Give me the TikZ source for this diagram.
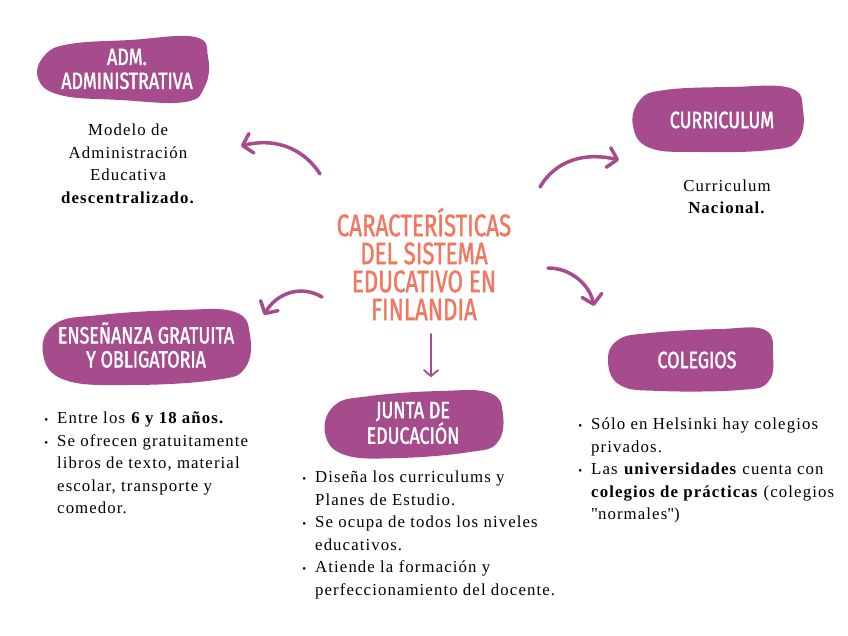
\documentclass[tikz,border=0pt]{standalone}
\usepackage{fontspec}
\setmainfont[LetterSpace=6.5]{Liberation Serif}
\newfontfamily\handfont[FakeStretch=0.72, FakeBold=1.2]{Fira Sans}
\newfontfamily\tagfont[FakeStretch=0.76, FakeBold=1.6]{Fira Sans}
\usetikzlibrary{arrows.meta}
\definecolor{blobpurple}{RGB}{166, 76, 140}
\definecolor{titlecoral}{RGB}{240, 120, 96}
\newcommand{\bul}{\llap{{\fontsize{11}{11}\selectfont\textbullet}\hspace{9pt}}}

\begin{document}
\begin{tikzpicture}[x=1pt, y=-1pt,
  blobshape/.style={fill=blobpurple, draw=none},
  blobtext/.style={text=white, font=\tagfont\fontsize{23.5}{24}\selectfont, align=center},
  bodytext/.style={font=\fontsize{16.8}{22.5}\selectfont, align=center, inner sep=0pt},
  listtext/.style={font=\fontsize{16.8}{22.5}\selectfont, align=left, anchor=north west, inner sep=0pt},
  curvearrow/.style={blobpurple, line width=3.5pt, line cap=round,
    -{Straight Barb[length=9pt, width=20pt, round]}}]
  \useasboundingbox (0,0) rectangle (848,636);
  % ── Title ──
  \node[titlecoral, font=\handfont\fontsize{31}{28}\selectfont, align=center]
    (title) at (424,264) {CARACTERÍSTICAS\\DEL SISTEMA\\EDUCATIVO EN\\FINLANDIA};
  % ── Adm. administrativa ──
  \fill[blobshape] plot[smooth cycle, tension=0.7] coordinates
    {(45,55) (70,44) (130,40) (195,37) (208,57) (205,86) (185,102) (120,100) (60,95) (38,78)};
  \node[blobtext] (adm) at (127,69) {ADM.\\ADMINISTRATIVA};
  \node[bodytext] (admtxt) at (128,164)
    {Modelo de\\Administración\\Educativa\\\textbf{descentralizado.}};
  % ── Curriculum ──
  \fill[blobshape] plot[smooth cycle, tension=0.7] coordinates
    {(640,100) (665,90) (730,87) (790,88) (803,110) (798,140) (770,150) (700,152) (650,148) (633,126)};
  \node[blobtext] (curr) at (722,120) {CURRICULUM};
  \node[bodytext] (currtxt) at (727,197) {Curriculum\\\textbf{Nacional.}};
  % ── Enseñanza gratuita ──
  \fill[blobshape] plot[smooth cycle, tension=0.7] coordinates
    {(55,324) (100,315) (180,310) (235,312) (250,335) (245,368) (215,380) (130,385) (65,380) (43,354)};
  \node[blobtext] (ense) at (146,345) {ENSEÑANZA GRATUITA\\Y OBLIGATORIA};
  \node[listtext] (enselist) at (57,412)
    {\bul Entre los \textbf{6 y 18 años.}\\
     \bul Se ofrecen gratuitamente\\libros de texto, material\\escolar, transporte y\\comedor.};
  % ── Junta de educación ──
  \fill[blobshape] plot[smooth cycle, tension=0.7] coordinates
    {(335,405) (370,396) (440,391) (490,393) (503,415) (497,443) (470,452) (400,458) (345,455) (325,433)};
  \node[blobtext] (junta) at (413,423) {JUNTA DE\\EDUCACIÓN};
  \node[listtext] (juntalist) at (315,471)
    {\bul Diseña los curriculums y\\Planes de Estudio.\\
     \bul Se ocupa de todos los niveles\\educativos.\\
     \bul Atiende la formación y\\perfeccionamiento del docente.};
  % ── Colegios ──
  \fill[blobshape] plot[smooth cycle, tension=0.7] coordinates
    {(618,340) (650,333) (720,329) (765,330) (773,355) (768,382) (740,390) (660,391) (620,385) (608,361)};
  \node[blobtext] (coleg) at (697,360) {COLEGIOS};
  \node[listtext] (coleglist) at (591,418)
    {\bul Sólo en Helsinki hay colegios\\privados.\\
     \bul Las \textbf{universidades} cuenta con\\\textbf{colegios de prácticas} (colegios\\\textquotedbl normales\textquotedbl)};
  % ── Arrows ──
  \coordinate (a1s) at (320,174);  \coordinate (a1e) at (241,146);
  \coordinate (a2s) at (540,187);  \coordinate (a2e) at (619,160);
  \coordinate (a3s) at (322,297);  \coordinate (a3e) at (264,315);
  \coordinate (a4s) at (431,334);  \coordinate (a4e) at (431,377);
  \coordinate (a5s) at (548,268);  \coordinate (a5e) at (594,306);
  \draw[curvearrow] (a1s) .. controls (302,146) and (272,138) .. (a1e);
  \draw[curvearrow] (a2s) .. controls (556,160) and (585,152) .. (a2e);
  \draw[curvearrow] (a3s) .. controls (300,284) and (276,294) .. (a3e);
  \draw[curvearrow, line width=1.8pt, -{Straight Barb[length=6pt, width=14pt, round]}] (a4s) -- (a4e);
  \draw[curvearrow] (a5s) .. controls (572,268) and (590,286) .. (a5e);
\end{tikzpicture}
\end{document}
